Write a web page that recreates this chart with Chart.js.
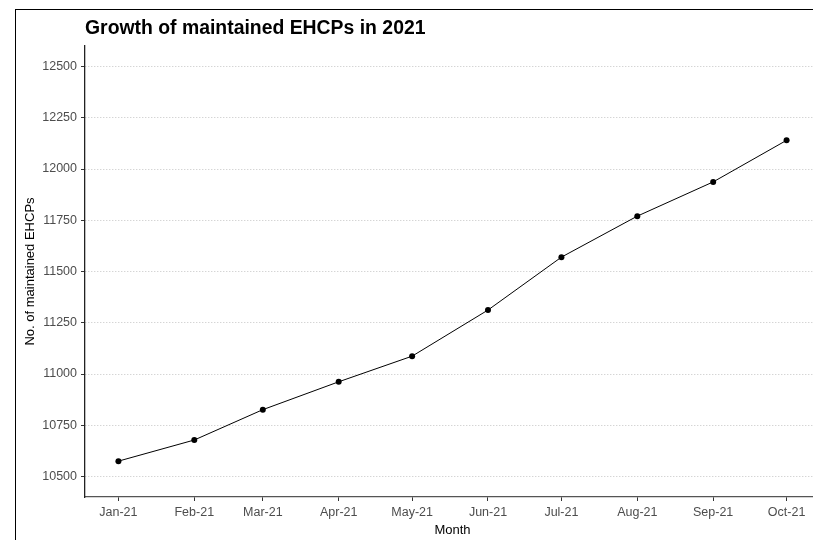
<!DOCTYPE html>
<html>
<head>
<meta charset="utf-8">
<script src="https://cdn.jsdelivr.net/npm/chart.js@4"></script>
<style>
  html, body { margin: 0; padding: 0; background: #fff; overflow: hidden; width: 813px; height: 540px; }
  #wrap { position: absolute; left: 0; top: 0; width: 840px; height: 540px; }
  #frame { position: absolute; left: 15px; top: 9px; width: 840px; height: 560px;
           border-left: 1.5px solid #000; border-top: 1.5px solid #000; pointer-events: none; }
</style>
</head>
<body>
<div id="wrap"><canvas id="c" width="840" height="540"></canvas></div>
<div id="frame"></div>
<script>
// ---- data ----
const chartTitle = "Growth of maintained EHCPs in 2021";
const monthDates = ["2021-01-01","2021-02-01","2021-03-01","2021-04-01","2021-05-01",
                    "2021-06-01","2021-07-01","2021-08-01","2021-09-01","2021-10-01"];
const monthLabels = ["Jan-21","Feb-21","Mar-21","Apr-21","May-21",
                     "Jun-21","Jul-21","Aug-21","Sep-21","Oct-21"];
const ehcpValues = [10575, 10678, 10826, 10962, 11087, 11312, 11570, 11770, 11937, 12140];
const yTicks = [10500, 10750, 11000, 11250, 11500, 11750, 12000, 12250, 12500];
const yLimits = [10500, 12500];
const xTitle = "Month";
const yTitle = "No. of maintained EHCPs";

// ---- derived ----
const DAY = 86400000;
const t0 = Date.parse(monthDates[0]);
const dayOffsets = monthDates.map(d => Math.round((Date.parse(d) - t0) / DAY));
const points = dayOffsets.map((x, i) => ({ x: x, y: ehcpValues[i] }));
const xSpan = dayOffsets[dayOffsets.length - 1] - dayOffsets[0];
const xMin = dayOffsets[0] - 0.05 * xSpan;
const xMax = dayOffsets[dayOffsets.length - 1] + 0.05 * xSpan;
const ySpan = yLimits[1] - yLimits[0];
const yMin = yLimits[0] - 0.05 * ySpan;
const yMax = yLimits[1] + 0.05 * ySpan;

const FONT = "'Liberation Sans', Arial, sans-serif";

const titlePlugin = {
  id: 'areaTitle',
  afterDraw(chart) {
    const ctx = chart.ctx;
    ctx.save();
    ctx.font = "bold 19.4px " + FONT;
    ctx.fillStyle = "#000";
    ctx.textBaseline = "alphabetic";
    ctx.textAlign = "left";
    ctx.fillText(chartTitle, chart.chartArea.left, 33.5);
    ctx.restore();
  }
};

new Chart(document.getElementById('c'), {
  type: 'line',
  data: {
    datasets: [{
      data: points,
      borderColor: '#000',
      borderWidth: 1,
      backgroundColor: '#000',
      pointBackgroundColor: '#000',
      pointBorderColor: '#000',
      pointRadius: 3,
      pointBorderWidth: 0,
      tension: 0,
      fill: false
    }]
  },
  plugins: [titlePlugin],
  options: {
    responsive: false,
    animation: false,
    devicePixelRatio: 1,
    layout: { padding: { top: 46, right: 20, bottom: 0, left: 0 } },
    plugins: { legend: { display: false }, tooltip: { enabled: false }, title: { display: false } },
    scales: {
      x: {
        type: 'linear',
        min: xMin,
        max: xMax,
        afterBuildTicks(scale) { scale.ticks = dayOffsets.map(v => ({ value: v })); },
        afterFit(scale) { scale.height = 43; },
        ticks: {
          autoSkip: false,
          maxRotation: 0,
          padding: 4,
          color: '#4d4d4d',
          font: { family: FONT, size: 12.5 },
          callback(value) { const i = dayOffsets.indexOf(value); return i >= 0 ? monthLabels[i] : ''; }
        },
        grid: { drawOnChartArea: false, drawTicks: true, tickLength: 4, tickColor: '#333', tickWidth: 1 },
        border: { display: true, color: '#555', width: 1.3 },
        title: { display: true, text: xTitle, color: '#000', font: { family: FONT, size: 13 }, padding: { top: 0, bottom: 2 } }
      },
      y: {
        type: 'linear',
        min: yMin,
        max: yMax,
        afterBuildTicks(scale) { scale.ticks = yTicks.map(v => ({ value: v })); },
        afterFit(scale) { scale.width = 85; },
        ticks: {
          padding: 4,
          color: '#4d4d4d',
          font: { family: FONT, size: 12.5 },
          callback(value) { return String(value); }
        },
        grid: { color: '#c4c4c4', lineWidth: 1, tickLength: 4, tickColor: '#333', tickWidth: 1, tickBorderDash: [] },
        border: { display: true, color: '#222', width: 1.3, dash: [1, 2] },
        title: { display: true, text: yTitle, color: '#000', font: { family: FONT, size: 13 }, padding: { top: 23, bottom: 0 } }
      }
    }
  }
});
</script>
</body>
</html>
